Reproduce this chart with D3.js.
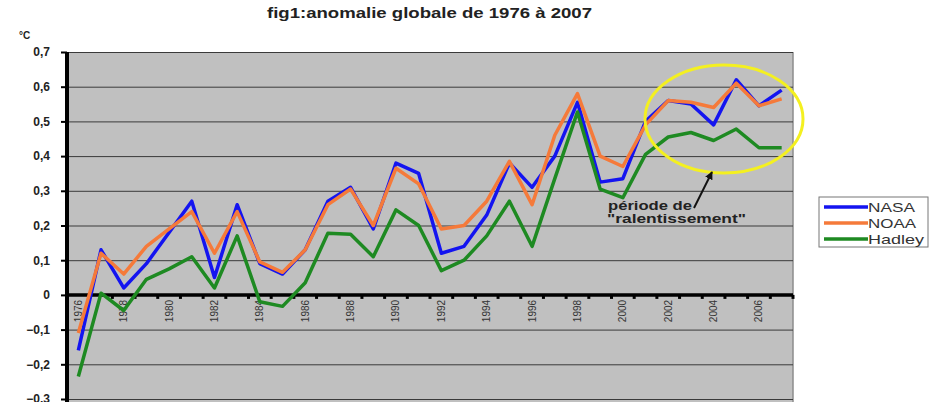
<!DOCTYPE html>
<html lang="fr">
  <head>
    <meta charset="utf-8">
    <title>fig1 anomalie globale</title>
    <script src="https://cdn.jsdelivr.net/npm/d3@7"></script>
    <style>
      body { margin: 0; background: #fff; }
      svg { display: block; font-family: "Liberation Sans", Arial, sans-serif; }
      .grid line { stroke: #3a3a3a; stroke-width: 1; }
      .grid path { display: none; }
      .yaxis text { font-size: 12px; font-weight: bold; fill: #222; }
      .xaxis text { font-size: 10px; fill: #333; }
      .xaxis path { display: none; }
    </style>
  </head>
  <body>
    <script>

      // data
      var years = d3.range(1976, 2008);
      var nasa = [-0.16, 0.13, 0.02, 0.09, 0.18, 0.27, 0.05, 0.26, 0.09, 0.06,
                  0.13, 0.27, 0.31, 0.19, 0.38, 0.35, 0.12, 0.14, 0.23, 0.38,
                  0.31, 0.40, 0.555, 0.325, 0.335, 0.50, 0.56, 0.55, 0.49, 0.62,
                  0.545, 0.59];
      var noaa = [-0.11, 0.12, 0.06, 0.14, 0.19, 0.24, 0.12, 0.24, 0.095, 0.065,
                  0.13, 0.26, 0.305, 0.20, 0.365, 0.32, 0.19, 0.20, 0.27, 0.385,
                  0.26, 0.46, 0.58, 0.40, 0.37, 0.49, 0.56, 0.555, 0.54, 0.61,
                  0.545, 0.565];
      var hadley = [-0.235, 0.005, -0.045, 0.045, 0.075, 0.11, 0.02, 0.17, -0.02, -0.033,
                    0.035, 0.178, 0.175, 0.11, 0.245, 0.20, 0.07, 0.10, 0.17, 0.27,
                    0.14, 0.335, 0.527, 0.305, 0.28, 0.405, 0.455, 0.468, 0.445, 0.478,
                    0.424, 0.424];
      var seriesNames = ["NASA", "NOAA", "Hadley"];
      var seriesColors = ["#1414f0", "#f57a3a", "#1e8a22"];
      var yTicks = [-0.3, -0.2, -0.1, 0, 0.1, 0.2, 0.3, 0.4, 0.5, 0.6, 0.7];
      var xLabelYears = years.filter(function(d) { return d % 2 === 0; });

      var w = 929;
      var h = 402;
      var pLeft = 67, pRight = 793, pTop = 52, pBottom = 399;

      var svg = d3.select("body")
                  .append("svg")
                  .attr("width", w)
                  .attr("height", h);

      var x = d3.scaleBand()
                .domain(years)
                .range([pLeft, pRight])
                .padding(0);

      var y = d3.scaleLinear()
                .domain([-0.3, 0.7])
                .range([pBottom, pTop]);

      // plot background
      svg.append("rect")
         .attr("x", pLeft)
         .attr("y", pTop)
         .attr("width", pRight - pLeft)
         .attr("height", h - pTop)
         .attr("fill", "#c0c0c0");

      svg.append("line")
         .attr("x1", pRight).attr("x2", pRight)
         .attr("y1", pTop).attr("y2", h)
         .attr("stroke", "#8c8c8c")
         .attr("stroke-width", 1.5);

      // gridlines
      svg.append("g")
         .attr("class", "grid")
         .attr("transform", "translate(" + pLeft + ",0)")
         .call(d3.axisLeft(y).tickValues(yTicks).tickSize(-(pRight - pLeft)).tickFormat(""));

      // y axis
      var yAxis = svg.append("g")
         .attr("class", "yaxis")
         .attr("transform", "translate(" + pLeft + ",0)")
         .call(d3.axisLeft(y)
                 .tickValues(yTicks)
                 .tickSize(6)
                 .tickPadding(11)
                 .tickFormat(function(d) { return d3.format(".1~f")(d).replace(".", ","); }));
      yAxis.select(".domain").remove();
      yAxis.selectAll(".tick line").attr("stroke", "#000").attr("stroke-width", 2);

      svg.append("line")
         .attr("x1", pLeft).attr("x2", pLeft)
         .attr("y1", pTop).attr("y2", h)
         .attr("stroke", "#000")
         .attr("stroke-width", 4);

      // x axis at zero
      var xAxis = svg.append("g")
         .attr("class", "xaxis")
         .attr("transform", "translate(0," + y(0) + ")")
         .call(d3.axisBottom(x).tickValues(xLabelYears).tickSize(0));
      xAxis.selectAll("text")
           .attr("transform", "rotate(-90)")
           .attr("x", -5)
           .attr("y", 0)
           .attr("dy", "0.35em")
           .attr("text-anchor", "end");

      svg.append("g")
         .selectAll("line")
         .data(years.slice(1).concat([null]))
         .enter()
         .append("line")
         .attr("x1", function(d) { return d === null ? pRight : x(d); })
         .attr("x2", function(d) { return d === null ? pRight : x(d); })
         .attr("y1", y(0))
         .attr("y2", y(0) + 4)
         .attr("stroke", "#000")
         .attr("stroke-width", 3);

      svg.append("line")
         .attr("x1", pLeft).attr("x2", pRight)
         .attr("y1", y(0)).attr("y2", y(0))
         .attr("stroke", "#000")
         .attr("stroke-width", 3.5);

      // series
      var line = d3.line()
                   .x(function(d, i) { return x(years[i]) + x.bandwidth() / 2; })
                   .y(function(d) { return y(d); });

      [nasa, noaa, hadley].forEach(function(s, i) {
        svg.append("path")
           .datum(s)
           .attr("fill", "none")
           .attr("stroke", seriesColors[i])
           .attr("stroke-width", 3.5)
           .attr("stroke-linejoin", "round")
           .attr("d", line);
      });

      // ellipse + annotation
      svg.append("ellipse")
         .attr("cx", 724).attr("cy", 119)
         .attr("rx", 79).attr("ry", 54)
         .attr("fill", "none")
         .attr("stroke", "#f4f020")
         .attr("stroke-width", 3);

      svg.append("defs").append("marker")
         .attr("id", "arrow")
         .attr("viewBox", "0 0 10 10")
         .attr("refX", 9).attr("refY", 5)
         .attr("markerWidth", 4).attr("markerHeight", 4)
         .attr("orient", "auto")
         .append("path")
         .attr("d", "M0,0L10,5L0,10z")
         .attr("fill", "#111");

      svg.append("line")
         .attr("x1", 694).attr("y1", 208)
         .attr("x2", 712).attr("y2", 172)
         .attr("stroke", "#111")
         .attr("stroke-width", 2)
         .attr("marker-end", "url(#arrow)");

      svg.append("text")
         .attr("x", 608).attr("y", 210)
         .attr("font-size", "12px").attr("font-weight", "bold").attr("fill", "#222")
         .attr("textLength", 84).attr("lengthAdjust", "spacingAndGlyphs")
         .text("période de");
      svg.append("text")
         .attr("x", 607).attr("y", 223)
         .attr("font-size", "12px").attr("font-weight", "bold").attr("fill", "#222")
         .attr("textLength", 139).attr("lengthAdjust", "spacingAndGlyphs")
         .text("\"ralentissement\"");

      // title
      svg.append("text")
         .attr("x", 267).attr("y", 18)
         .attr("font-size", "14px").attr("font-weight", "bold").attr("fill", "#222")
         .attr("textLength", 325).attr("lengthAdjust", "spacingAndGlyphs")
         .text("fig1:anomalie globale de 1976 à 2007");

      svg.append("text")
         .attr("x", 19).attr("y", 39)
         .attr("font-size", "10px").attr("font-weight", "bold").attr("fill", "#222")
         .text("°C");

      // legend
      var legendWidths = [47, 48, 56];
      var legend = svg.append("g").attr("transform", "translate(819,197)");
      legend.append("rect")
            .attr("width", 109).attr("height", 50)
            .attr("fill", "#fff")
            .attr("stroke", "#777");
      seriesNames.forEach(function(name, i) {
        var ly = 10 + i * 16;
        legend.append("line")
              .attr("x1", 5).attr("x2", 49)
              .attr("y1", ly).attr("y2", ly)
              .attr("stroke", seriesColors[i])
              .attr("stroke-width", 3.5);
        legend.append("text")
              .attr("x", 49).attr("y", ly)
              .attr("dy", "0.35em")
              .attr("font-size", "13px").attr("fill", "#333")
              .attr("textLength", legendWidths[i]).attr("lengthAdjust", "spacingAndGlyphs")
              .text(name);
      });

    </script>
  </body>
</html>
